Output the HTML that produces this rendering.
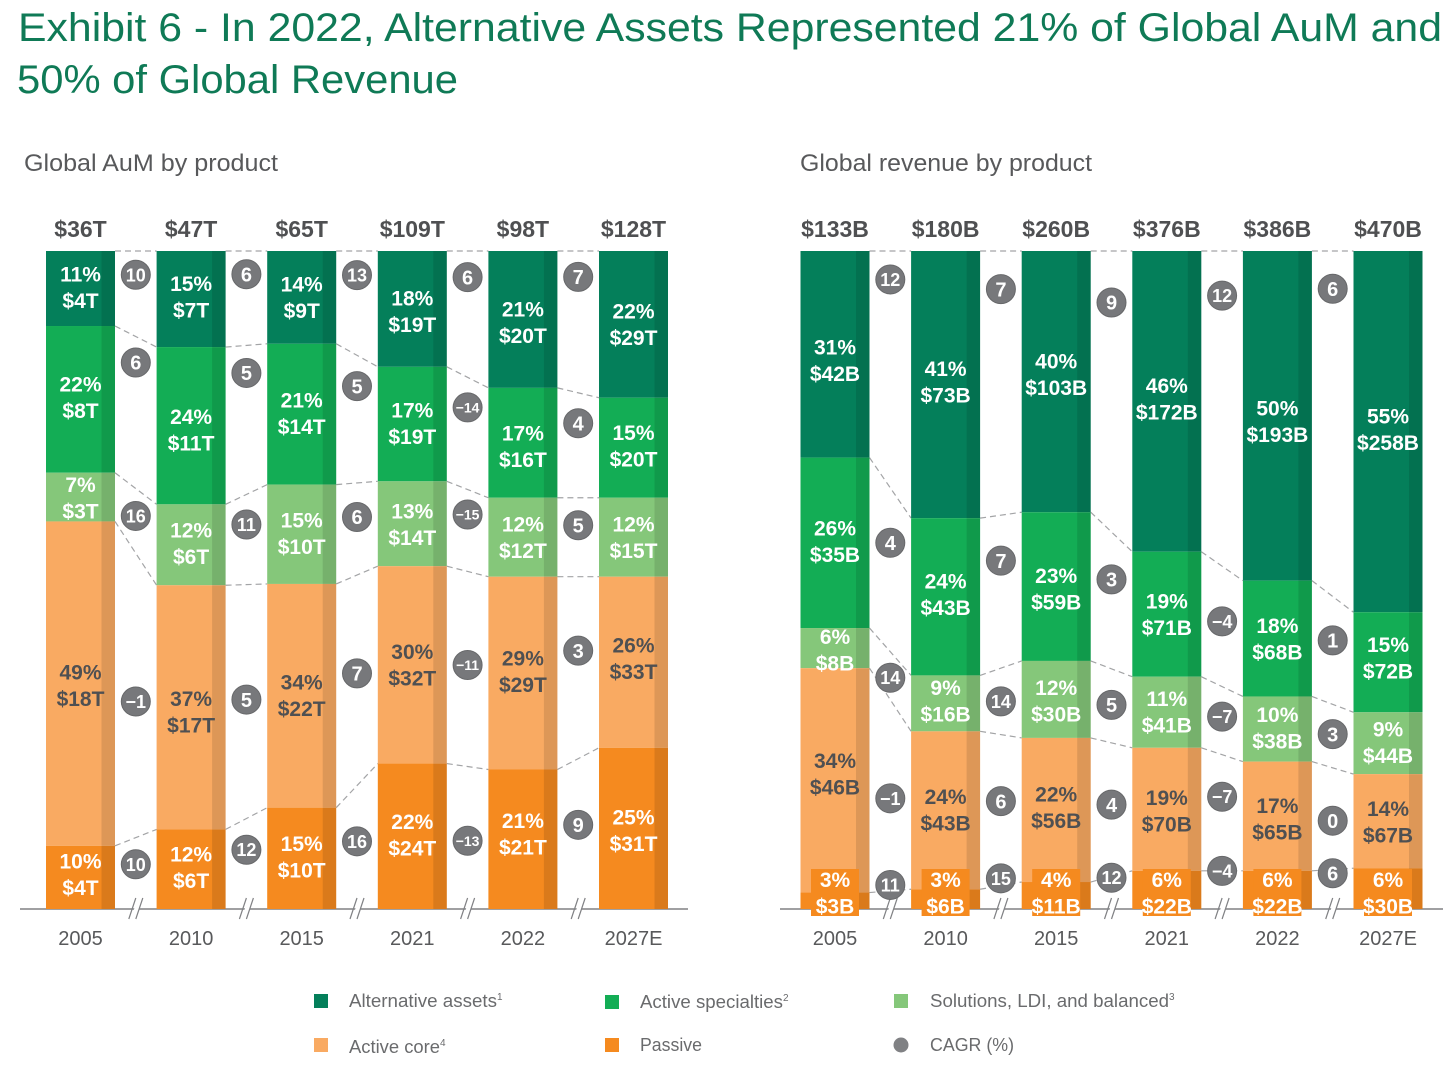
<!DOCTYPE html>
<html lang="en">
<head>
<meta charset="utf-8">
<title>Exhibit 6 - Alternative Assets</title>
<style>
html,body{margin:0;padding:0;background:#fff;}
svg{display:block;font-family:"Liberation Sans",sans-serif;}
</style>
</head>
<body>
<svg id="chart" width="1456" height="1078" viewBox="0 0 1456 1078">
  <g fill="#0f7a56" font-size="40">
    <text x="18" y="41" textLength="1424" lengthAdjust="spacingAndGlyphs">Exhibit 6 - In 2022, Alternative Assets Represented 21% of Global AuM and</text>
    <text x="17" y="93" textLength="441" lengthAdjust="spacingAndGlyphs">50% of Global Revenue</text>
  </g>
  <text x="24" y="171" font-size="24" fill="#58595b" textLength="254" lengthAdjust="spacingAndGlyphs">Global AuM by product</text>
  <text x="800" y="171" font-size="24" fill="#58595b" textLength="292" lengthAdjust="spacingAndGlyphs">Global revenue by product</text>

  <g id="aum-chart"></g>
  <g id="revenue-chart"></g>

  <g font-size="18" fill="#6a6b6d">
    <g>
      <rect x="314" y="994" width="14" height="14" fill="#047f5a"/>
      <text x="349" y="1007"><tspan textLength="148" lengthAdjust="spacingAndGlyphs">Alternative assets</tspan><tspan font-size="10" dy="-7">1</tspan></text>
    </g>
    <g>
      <rect x="605" y="995" width="14" height="14" fill="#13ad55"/>
      <text x="640" y="1008"><tspan textLength="143" lengthAdjust="spacingAndGlyphs">Active specialties</tspan><tspan font-size="10" dy="-7">2</tspan></text>
    </g>
    <g>
      <rect x="894" y="994" width="14" height="14" fill="#85c77a"/>
      <text x="930" y="1007"><tspan textLength="239" lengthAdjust="spacingAndGlyphs">Solutions, LDI, and balanced</tspan><tspan font-size="10" dy="-7">3</tspan></text>
    </g>
    <g>
      <rect x="314" y="1038" width="14" height="14" fill="#f9aa62"/>
      <text x="349" y="1053"><tspan textLength="91" lengthAdjust="spacingAndGlyphs">Active core</tspan><tspan font-size="10" dy="-7">4</tspan></text>
    </g>
    <g>
      <rect x="605" y="1038" width="14" height="14" fill="#f58a1f"/>
      <text x="640" y="1051" textLength="62" lengthAdjust="spacingAndGlyphs">Passive</text>
    </g>
    <g>
      <circle cx="901" cy="1045" r="7.5" fill="#808184"/>
      <text x="930" y="1051" textLength="84" lengthAdjust="spacingAndGlyphs">CAGR (%)</text>
    </g>
  </g>
</svg>

<script>
// ---- Shared categories ----
const years = ['2005', '2010', '2015', '2021', '2022', '2027E'];
const seriesNames = ['alternative-assets', 'active-specialties', 'solutions', 'active-core', 'passive'];

// ---- Global AuM: share of total (%) ----
const aumAlternative = [11.4, 14.6, 14.1, 17.6, 20.8, 22.3];
const aumSpecialties = [22.3, 23.9, 21.4, 17.4, 16.7, 15.2];
const aumSolutions = [7.4, 12.3, 15.1, 12.9, 12.0, 12.0];
const aumCore = [49.3, 37.1, 34.0, 30.0, 29.3, 26.0];
const aumPassive = [9.6, 12.1, 15.4, 22.1, 21.2, 24.5];

// ---- Global AuM: amounts ($T) ----
const aumAlternativeAmount = [4, 7, 9, 19, 20, 29];
const aumSpecialtiesAmount = [8, 11, 14, 19, 16, 20];
const aumSolutionsAmount = [3, 6, 10, 14, 12, 15];
const aumCoreAmount = [18, 17, 22, 32, 29, 33];
const aumPassiveAmount = [4, 6, 10, 24, 21, 31];
const aumTotals = [36, 47, 65, 109, 98, 128];

// ---- Global AuM: CAGR (%) between consecutive years ----
const aumAlternativeCagr = [10, 6, 13, 6, 7];
const aumSpecialtiesCagr = [6, 5, 5, -14, 4];
const aumSolutionsCagr = [16, 11, 6, -15, 5];
const aumCoreCagr = [-1, 5, 7, -11, 3];
const aumPassiveCagr = [10, 12, 16, -13, 9];

// ---- Global revenue: share of total (%) ----
const revAlternative = [31.4, 40.6, 39.7, 45.7, 50.1, 54.9];
const revSpecialties = [25.9, 23.9, 22.6, 19.0, 17.6, 15.2];
const revSolutions = [6.1, 8.5, 11.7, 10.8, 9.9, 9.4];
const revCore = [34.1, 24.0, 21.9, 18.7, 16.6, 14.3];
const revPassive = [2.5, 3.0, 4.1, 5.8, 5.8, 6.2];

// ---- Global revenue: amounts ($B) ----
const revAlternativeAmount = [42, 73, 103, 172, 193, 258];
const revSpecialtiesAmount = [35, 43, 59, 71, 68, 72];
const revSolutionsAmount = [8, 16, 30, 41, 38, 44];
const revCoreAmount = [46, 43, 56, 70, 65, 67];
const revPassiveAmount = [3, 6, 11, 22, 22, 30];
const revTotals = [133, 180, 260, 376, 386, 470];

// ---- Global revenue: CAGR (%) between consecutive years ----
const revAlternativeCagr = [12, 7, 9, 12, 6];
const revSpecialtiesCagr = [4, 7, 3, -4, 1];
const revSolutionsCagr = [14, 14, 5, -7, 3];
const revCoreCagr = [-1, 6, 4, -7, 0];
const revPassiveCagr = [11, 15, 12, -4, 6];

// ---- Layout only: offset of each CAGR badge from the middle of its connector band ----
const aumBadgeOffsets = [
  [-19, -24, -28, -37, -45],
  [-50, -47, -33, -26, -22],
  [-5, -15, -12, -16, -12],
  [6, -2, -7, -4, -17],
  [-9, -14, -6, 3, -9]
];
const revBadgeOffsets = [
  [-90, -94, -89, -113, -135],
  [-27, -31, -21, -5, -10],
  [2, 0, -1, -4, -2],
  [3, -9, -5, -16, 2],
  [-15, -19, -15, -19, -16]
];

// ---- Layout only: offset of each value label from the middle of its segment ----
const aumLabelOffsets = [
  [-1, -2, 0, 2.5, 3, 0],
  [-2, 4.5, -0.5, -0.5, 3.5, -1.5],
  [1, -1.5, -1, 1, 0.5, 0.5],
  [2, 4.5, -0.5, 0, -1.5, -4],
  [-3, -1.5, -1.5, -1.5, -5.5, 2]
];
const revLabelOffsets = [
  [6, -2.5, -7, -2.5, 5.5, -2],
  [-1.5, -2.5, 2.5, 0.5, 0.5, -4.5],
  [2, -2.5, 1.5, -0.5, -1, -0.5],
  [-6.5, -0.5, -2.5, 1.5, 3, 1],
  [0, 0, 0, 0, 0, 0]
];

// ---- Styles ----
const seriesFills = ['#047f5a', '#13ad55', '#85c77a', '#f9aa62', '#f58a1f'];
const labelFills = ['#ffffff', '#ffffff', '#ffffff', '#4f5052', '#ffffff'];

const SVG_NS = 'http://www.w3.org/2000/svg';
const PLOT_TOP = 251;
const PLOT_BOTTOM = 909;
const BAR_W = 69;
const BAR_STEP = 110.6;
const SHADE_W = 13.5;

function yScale(share) {
  return PLOT_BOTTOM - (share / 100) * (PLOT_BOTTOM - PLOT_TOP);
}

function make(parent, tag, attrs, text) {
  const el = document.createElementNS(SVG_NS, tag);
  for (const k in attrs) el.setAttribute(k, attrs[k]);
  if (text !== undefined) el.textContent = text;
  parent.appendChild(el);
  return el;
}

function drawChart(cfg) {
  const root = document.getElementById(cfg.id);
  const xBar = i => cfg.x0 + i * BAR_STEP;
  const xMid = i => xBar(i) + BAR_W / 2;

  // stacked edges, top of alternative assets down to the baseline
  const edges = years.map((_, c) => {
    const list = [];
    let cum = 0;
    for (let s = cfg.shares.length - 1; s >= 0; s--) {
      list.unshift(yScale(cum + cfg.shares[s][c]));
      cum += cfg.shares[s][c];
    }
    list.push(yScale(0));
    return list;
  });

  // connectors
  for (let c = 0; c < years.length - 1; c++) {
    for (let e = 0; e < cfg.shares.length; e++) {
      const conn = make(root, 'line', {
        x1: xBar(c) + BAR_W, y1: edges[c][e], x2: xBar(c + 1), y2: edges[c + 1][e],
        stroke: '#a3a4a6', 'stroke-width': 1.2, 'stroke-dasharray': '6 4'
      });
      
      
    }
  }

  // axis baseline
  const axis = make(root, 'line', {
    x1: cfg.axisStart, y1: PLOT_BOTTOM, x2: cfg.axisEnd, y2: PLOT_BOTTOM,
    stroke: '#808184', 'stroke-width': 1.5
  });
  
  

  // axis breaks
  for (let c = 0; c < years.length - 1; c++) {
    const bx = xBar(c) + BAR_W + (BAR_STEP - BAR_W) / 2;
    const gap = make(root, 'polygon', {
      points: (bx - 5) + ',919 ' + (bx + 2) + ',898 ' + (bx + 7) + ',898 ' + (bx) + ',919',
      fill: '#ffffff'
    });
    
    
    [-7, 0].forEach(dx => {
      const slash = make(root, 'line', {
        x1: bx + dx, y1: 919, x2: bx + dx + 7, y2: 898, stroke: '#808184', 'stroke-width': 1.2
      });
      
      
    });
  }

  // bars
  years.forEach((year, c) => {
    const col = make(root, 'g', {});
    
    

    const head = make(col, 'text', {
      x: xMid(c), y: 237, 'text-anchor': 'middle', 'font-size': 23, 'font-weight': 700, fill: '#4f5052'
    }, '$' + cfg.totals[c] + cfg.unit);
    
    

    const yearLabel = make(col, 'text', {
      x: xMid(c), y: 945, 'text-anchor': 'middle', 'font-size': 20, fill: '#58595b'
    }, year);
    
    

    cfg.shares.forEach((series, s) => {
      const top = edges[c][s];
      const bottom = edges[c][s + 1];
      const seg = make(col, 'rect', {
        x: xBar(c), y: top, width: BAR_W, height: bottom - top, fill: seriesFills[s]
      });
      
      

      const shade = make(col, 'rect', {
        x: xBar(c) + BAR_W - SHADE_W, y: top, width: SHADE_W, height: bottom - top,
        fill: '#000000', 'fill-opacity': 0.11
      });
      
      
    });
  });

  // value labels above all segments
  years.forEach((year, c) => {
    cfg.shares.forEach((series, s) => {
      const top = edges[c][s];
      const bottom = edges[c][s + 1];
      let mid = (top + bottom) / 2 + cfg.labelOffsets[s][c];
      if (cfg.boxPassive && s === cfg.shares.length - 1) {
        const box = make(root, 'rect', {
          x: xMid(c) - 24, y: 869, width: 48, height: 47, fill: seriesFills[s]
        });
        
        
        mid = 893;
      }
      const pct = make(root, 'text', {
        x: xMid(c), y: mid - 6, 'text-anchor': 'middle', 'font-size': 21, 'font-weight': 700, fill: labelFills[s]
      }, Math.round(series[c]) + '%');
      
      

      const amt = make(root, 'text', {
        x: xMid(c), y: mid + 20.5, 'text-anchor': 'middle', 'font-size': 21, 'font-weight': 700, fill: labelFills[s]
      }, '$' + cfg.amounts[s][c] + cfg.unit);
      
      
    });
  });

  // CAGR badges
  for (let c = 0; c < years.length - 1; c++) {
    cfg.cagr.forEach((row, s) => {
      const bandMid = (edges[c][s] + edges[c][s + 1] + edges[c + 1][s] + edges[c + 1][s + 1]) / 4;
      const cy = bandMid + cfg.offsets[s][c];
      const cx = xBar(c) + BAR_W + (BAR_STEP - BAR_W) / 2;
      const badge = make(root, 'g', {});
      
      

      const disc = make(badge, 'circle', { cx: cx, cy: cy, r: 14.5, fill: '#77787b', stroke: '#67686a', 'stroke-width': 1 });
      
      

      const v = row[c];
      const str = (v < 0 ? '\u2212' : '') + Math.abs(v);
      const size = str.length >= 3 ? 14 : (str.length === 2 ? 18 : 20);
      const label = make(badge, 'text', {
        x: cx, y: cy + size * 0.36, 'text-anchor': 'middle', 'font-size': size, 'font-weight': 700, fill: '#ffffff'
      }, str);
      
      
    });
  }
}

drawChart({
  id: 'aum-chart', prefix: 'aum', unit: 'T', x0: 46, axisStart: 20, axisEnd: 688, boxPassive: false,
  totals: aumTotals,
  shares: [aumAlternative, aumSpecialties, aumSolutions, aumCore, aumPassive],
  amounts: [aumAlternativeAmount, aumSpecialtiesAmount, aumSolutionsAmount, aumCoreAmount, aumPassiveAmount],
  cagr: [aumAlternativeCagr, aumSpecialtiesCagr, aumSolutionsCagr, aumCoreCagr, aumPassiveCagr],
  offsets: aumBadgeOffsets,
  labelOffsets: aumLabelOffsets
});
drawChart({
  id: 'revenue-chart', prefix: 'revenue', unit: 'B', x0: 800.5, axisStart: 780, axisEnd: 1443, boxPassive: true,
  totals: revTotals,
  shares: [revAlternative, revSpecialties, revSolutions, revCore, revPassive],
  amounts: [revAlternativeAmount, revSpecialtiesAmount, revSolutionsAmount, revCoreAmount, revPassiveAmount],
  cagr: [revAlternativeCagr, revSpecialtiesCagr, revSolutionsCagr, revCoreCagr, revPassiveCagr],
  offsets: revBadgeOffsets,
  labelOffsets: revLabelOffsets
});
</script>
</body>
</html>
